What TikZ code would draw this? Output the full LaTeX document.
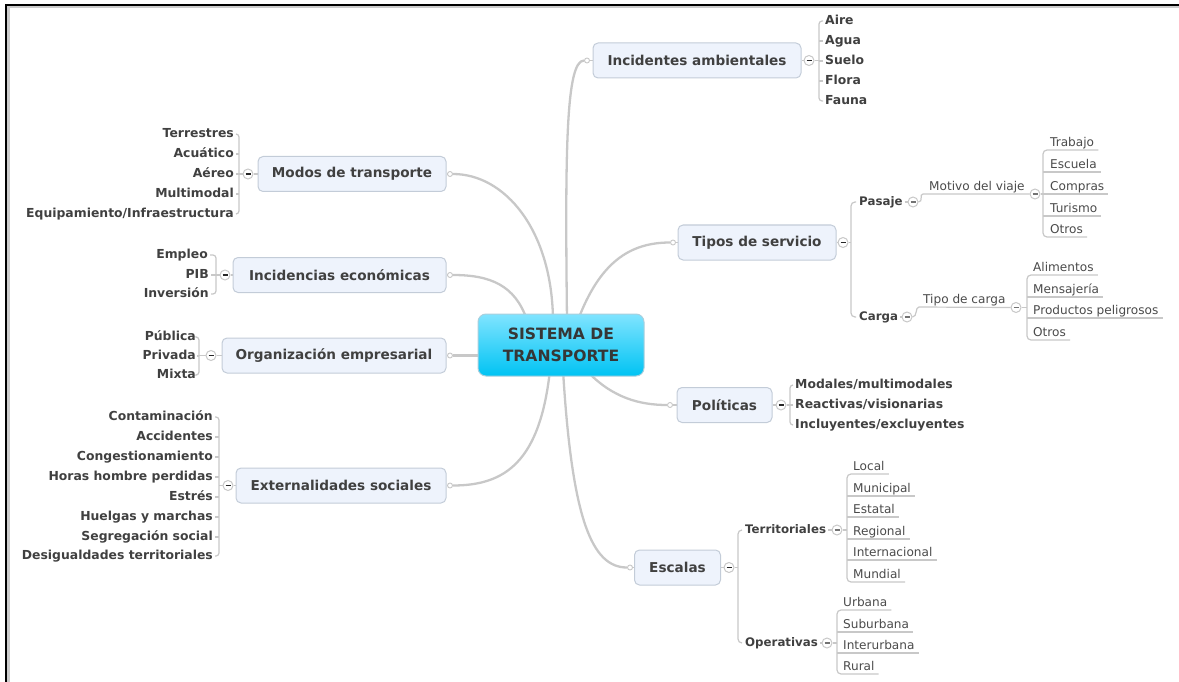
\documentclass[tikz,border=0pt]{standalone}
\usepackage{fontspec}
\setmainfont{DejaVu Sans}
\usetikzlibrary{calc,backgrounds}
\definecolor{txt}{HTML}{404040}
\definecolor{ltxt}{HTML}{4A4A4A}
\definecolor{conn}{HTML}{C8C8C8}
\definecolor{boxfill}{HTML}{EEF3FC}
\definecolor{boxdraw}{HTML}{C3CCD8}
\definecolor{cyantop}{HTML}{80E4FF}
\definecolor{cyanbot}{HTML}{00C3F3}
\definecolor{cdraw}{HTML}{A9CFDD}
\tikzset{
 topic/.style={draw=boxdraw, fill=boxfill, rounded corners=5pt, line width=1pt, minimum height=35pt, font=\fontsize{13.6}{15}\selectfont\bfseries, text=txt, inner sep=0pt},
 bleaf/.style={font=\fontsize{12.4}{13}\selectfont\bfseries, text=txt, inner sep=0pt, text height=9pt, text depth=2.5pt},
 sleaf/.style={bleaf, font=\fontsize{11.8}{13}\selectfont\bfseries},
 uleaf/.style={font=\fontsize{12.1}{13}\selectfont, text=ltxt, inner xsep=0pt, inner ysep=1pt, text height=8.5pt, text depth=2.5pt, anchor=south west},
 mainconn/.style={draw=conn, line width=2.3pt},
 br/.style={draw=conn, line width=1.2pt},
 minusbase/.style={circle, draw=conn, fill=white, line width=1pt, minimum size=10pt, inner sep=0pt},
 minus/.style={minusbase, path picture={\draw[line width=1.4pt, black!85] ([xshift=-2.5pt]path picture bounding box.center) -- ([xshift=2.5pt]path picture bounding box.center);}},
 minusl/.style={minusbase, path picture={\draw[line width=1.1pt, black!55] ([xshift=-2.5pt]path picture bounding box.center) -- ([xshift=2.5pt]path picture bounding box.center);}},
 dot/.style={circle, draw=conn, fill=white, line width=0.9pt, minimum size=5pt, inner sep=0pt},
}
\begin{document}
\begin{tikzpicture}[x=1pt,y=-1pt]
\useasboundingbox (0,0) rectangle (1179,682);
% frame
\draw[line width=3pt, black!20] (8,682) -- (8,7) -- (1179,7);
\draw[line width=2.4pt, black] (6,682) -- (6,5) -- (1179,5);

% center
\node[rounded corners=8pt, draw=cdraw, line width=1pt, top color=cyantop, bottom color=cyanbot, minimum width=166pt, minimum height=62pt, align=center, font=\fontsize{15.6}{22}\selectfont\bfseries, text=txt!85!black, inner sep=0pt] (cn) at (561,345) {SISTEMA DE\\TRANSPORTE};

% topics
\node[topic, minimum width=208pt] (ia) at (697,60.5) {Incidentes ambientales};
\node[topic, minimum width=188pt] (md) at (352,174) {Modos de transporte};
\node[topic, minimum width=213pt] (ie) at (339.5,275) {Incidencias económicas};
\node[topic, minimum width=224pt] (oe) at (334,355.5) {Organización empresarial};
\node[topic, minimum width=210pt] (es) at (341,485.5) {Externalidades sociales};
\node[topic, minimum width=158pt] (ts) at (757,242.5) {Tipos de servicio};
\node[topic, minimum width=95pt] (po) at (724.5,405) {Políticas};
\node[topic, minimum width=86pt] (ec) at (677.5,567.5) {Escalas};

% dots
\node[dot] (iad) at (587,60.5) {};
\node[dot] (mdd) at (450,174) {};
\node[dot] (ied) at (450,275) {};
\node[dot] (oed) at (450,355.5) {};
\node[dot] (esd) at (450,485.5) {};
\node[dot] (tsd) at (673,242.5) {};
\node[dot] (pod) at (670,405) {};
\node[dot] (ecd) at (630,567.5) {};

% minus circles
\node[minus] (iam) at (809,60.5) {};
\node[minus] (mdm) at (248,174) {};
\node[minus] (iem) at (225,275) {};
\node[minus] (oem) at (211,355.5) {};
\node[minus] (esm) at (228,485.5) {};
\node[minus] (tsm) at (843,242.5) {};
\node[minus] (pom) at (781,405) {};
\node[minus] (ecm) at (729,567.5) {};

% bracket coordinates
\coordinate (bxIA) at (819,60.5);
\coordinate (bxMD) at (239,174);
\coordinate (bxIE) at (216,275);
\coordinate (bxOE) at (199,355.5);
\coordinate (bxES) at (219,485.5);
\coordinate (bxTS) at (851,242.5);
\coordinate (bxPO) at (790,405);
\coordinate (bxEC) at (738,567.5);

% Incidentes ambientales leaves
\node[bleaf, anchor=west] (aire) at (825,21) {Aire};
\node[bleaf, anchor=west] (agua) at (825,41) {Agua};
\node[bleaf, anchor=west] (suelo) at (825,61) {Suelo};
\node[bleaf, anchor=west] (flora) at (825,81) {Flora};
\node[bleaf, anchor=west] (fauna) at (825,101) {Fauna};

% Modos leaves
\node[bleaf, anchor=east] (terr) at (234,134) {Terrestres};
\node[bleaf, anchor=east] (acua) at (234,154) {Acuático};
\node[bleaf, anchor=east] (aereo) at (234,174) {Aéreo};
\node[bleaf, anchor=east] (multi) at (234,194) {Multimodal};
\node[bleaf, anchor=east] (equip) at (234,214) {Equipamiento/Infraestructura};

% Incidencias leaves
\node[bleaf, anchor=east] (empleo) at (208,255) {Empleo};
\node[bleaf, anchor=east] (pib) at (209,275) {PIB};
\node[bleaf, anchor=east] (inver) at (209,294) {Inversión};

% Organizacion leaves
\node[bleaf, anchor=east] (publ) at (196,337) {Pública};
\node[bleaf, anchor=east] (priv) at (196,356) {Privada};
\node[bleaf, anchor=east] (mixta) at (196,375) {Mixta};

% Externalidades leaves
\node[bleaf, anchor=east] (cont) at (213,417) {Contaminación};
\node[bleaf, anchor=east] (acci) at (213,437) {Accidentes};
\node[bleaf, anchor=east] (cong) at (213,457) {Congestionamiento};
\node[bleaf, anchor=east] (horas) at (213,477) {Horas hombre perdidas};
\node[bleaf, anchor=east] (estres) at (213,497) {Estrés};
\node[bleaf, anchor=east] (huel) at (213,517) {Huelgas y marchas};
\node[bleaf, anchor=east] (segr) at (213,537) {Segregación social};
\node[bleaf, anchor=east] (desi) at (213,556) {Desigualdades territoriales};

% Politicas leaves
\node[bleaf, anchor=west] (moda) at (795,385) {Modales/multimodales};
\node[bleaf, anchor=west] (reac) at (795,405) {Reactivas/visionarias};
\node[bleaf, anchor=west] (incl) at (795,425) {Incluyentes/excluyentes};

% Tipos de servicio
\node[sleaf, anchor=west] (pasaje) at (859,202) {Pasaje};
\node[sleaf, anchor=west] (carga) at (859,317) {Carga};
\node[minusl] (pam) at (913,202) {};
\node[minusl] (cam) at (907,317) {};
\node[uleaf] (motivo) at (929,194) {Motivo del viaje};
\node[minusl] (mom) at (1035,194) {};
\coordinate (bxMO) at (1043,194);
\node[uleaf] (trab) at (1050,150) {Trabajo};
\node[uleaf] (escu) at (1050,172) {Escuela};
\node[uleaf] (comp) at (1050,194) {Compras};
\node[uleaf] (turi) at (1050,216) {Turismo};
\node[uleaf] (otrosA) at (1050,237) {Otros};
\node[uleaf] (tcarga) at (923,307) {Tipo de carga};
\node[minusl] (tcm) at (1016,307.5) {};
\coordinate (bxTC) at (1027,307.5);
\node[uleaf] (alim) at (1033,275) {Alimentos};
\node[uleaf] (mens) at (1033,297) {Mensajería};
\node[uleaf] (prod) at (1033,318) {Productos peligrosos};
\node[uleaf] (otrosB) at (1033,340) {Otros};

% Escalas
\node[sleaf, anchor=west] (terri) at (745,530) {Territoriales};
\node[sleaf, anchor=west] (opera) at (745,643) {Operativas};
\node[minusl] (trm) at (837,530) {};
\node[minusl] (opm) at (827,643) {};
\coordinate (bxTR) at (847,530);
\coordinate (bxOP) at (837,643);
\node[uleaf] (local) at (853,474) {Local};
\node[uleaf] (muni) at (853,496) {Municipal};
\node[uleaf] (esta) at (853,517) {Estatal};
\node[uleaf] (regi) at (853,539) {Regional};
\node[uleaf] (inte) at (853,560) {Internacional};
\node[uleaf] (mund) at (853,582) {Mundial};
\node[uleaf] (urba) at (843,610) {Urbana};
\node[uleaf] (subu) at (843,632) {Suburbana};
\node[uleaf] (inur) at (843,653) {Interurbana};
\node[uleaf] (rura) at (843,674) {Rural};

\begin{scope}[on background layer]
% main curves
\coordinate (c1) at (567,320);
\coordinate (c2) at (578,320);
\coordinate (c3) at (586,370);
\coordinate (c4) at (563,370);
\coordinate (c5) at (550,370);
\coordinate (c6) at (484,355.5);
\coordinate (c7) at (527,320);
\coordinate (c8) at (553,320);
\draw[mainconn] (c1) .. controls (565,150) and (566,60.5) .. (iad.west);
\draw[mainconn] (c2) .. controls (600,262) and (630,242.5) .. (tsd.west);
\draw[mainconn] (c3) .. controls (612,398) and (640,405) .. (pod.west);
\draw[mainconn] (c4) .. controls (572,520) and (592,567.5) .. (ecd.west);
\draw[mainconn] (c5) .. controls (540,462) and (505,485.5) .. (esd.east);
\draw[mainconn] (c6) -- (oed.east);
\draw[mainconn] (c7) .. controls (515,285) and (490,275) .. (ied.east);
\draw[mainconn] (c8) .. controls (552,230) and (505,174) .. (mdd.east);
% dots to boxes
\draw[br] (iad) -- (ia.west);
\draw[br] (mdd) -- (md.east);
\draw[br] (ied) -- (ie.east);
\draw[br] (oed) -- (oe.east);
\draw[br] (esd) -- (es.east);
\draw[br] (tsd) -- (ts.west);
\draw[br] (pod) -- (po.west);
\draw[br] (ecd) -- (ec.west);
% boxes to minus
\draw[br] (ia.east) -- (iam.west);
\draw[br] (md.west) -- (mdm.east);
\draw[br] (ie.west) -- (iem.east);
\draw[br] (oe.west) -- (oem.east);
\draw[br] (es.west) -- (esm.east);
\draw[br] (ts.east) -- (tsm.west);
\draw[br] (po.east) -- (pom.west);
\draw[br] (ec.east) -- (ecm.west);
% Incidentes ambientales bracket
\draw[br] (iam.east) -- (bxIA);
\draw[br, rounded corners=3pt] ([xshift=-2pt]aire.west) -| (bxIA) |- ([xshift=-2pt]fauna.west);
\foreach \n in {agua,suelo,flora} \draw[br] ([xshift=-2pt]\n.west) -- (\n.west -| bxIA);
% Modos bracket
\draw[br] (mdm.west) -- (bxMD);
\draw[br, rounded corners=3pt] ([xshift=2pt]terr.east) -| (bxMD) |- ([xshift=2pt]equip.east);
\foreach \n in {acua,aereo,multi} \draw[br] ([xshift=2pt]\n.east) -- (\n.east -| bxMD);
% Incidencias bracket
\draw[br] (iem.west) -- (bxIE);
\draw[br, rounded corners=3pt] ([xshift=2pt]empleo.east) -| (bxIE) |- ([xshift=2pt]inver.east);
\draw[br] ([xshift=2pt]pib.east) -- (pib.east -| bxIE);
% Organizacion bracket
\draw[br] (oem.west) -- (bxOE);
\draw[br, rounded corners=3pt] ([xshift=1pt]publ.east) -| (bxOE) |- ([xshift=1pt]mixta.east);
\draw[br] ([xshift=1pt]priv.east) -- (priv.east -| bxOE);
% Externalidades bracket
\draw[br] (esm.west) -- (bxES);
\draw[br, rounded corners=3pt] ([xshift=2pt]cont.east) -| (bxES) |- ([xshift=2pt]desi.east);
\foreach \n in {acci,cong,horas,estres,huel,segr} \draw[br] ([xshift=2pt]\n.east) -- (\n.east -| bxES);
% Politicas bracket
\draw[br] (pom.east) -- (bxPO);
\draw[br, rounded corners=3pt] ([xshift=-2pt]moda.west) -| (bxPO) |- ([xshift=-2pt]incl.west);
\draw[br] ([xshift=-2pt]reac.west) -- (reac.west -| bxPO);
% Tipos de servicio bracket
\draw[br] (tsm.east) -- (bxTS);
\draw[br, rounded corners=4pt] ([xshift=-3pt]pasaje.west) -| (bxTS) |- ([xshift=-3pt]carga.west);
\draw[br] ([xshift=2pt]pasaje.east) -- (pam.west);
\draw[br] ([xshift=2pt]carga.east) -- (cam.west);
\draw[br] (pam.east) .. controls +(5,0) and +(-4,0) .. ([xshift=-6pt]motivo.south west) -- (mom.west);
\draw[br] (cam.east) .. controls +(5,0) and +(-4,0) .. ([xshift=-4pt]tcarga.south west) -- (tcm.west);
\draw[br] (mom.east) -- (bxMO);
\draw[br, rounded corners=4pt] ([xshift=4pt]trab.south east) -| (bxMO) |- ([xshift=4pt]otrosA.south east);
\foreach \n in {escu,comp,turi} \draw[br] (bxMO |- \n.south) -- ([xshift=4pt]\n.south east);
\draw[br] (tcm.east) -- (bxTC);
\draw[br, rounded corners=4pt] ([xshift=4pt]alim.south east) -| (bxTC) |- ([xshift=4pt]otrosB.south east);
\foreach \n in {mens,prod} \draw[br] (bxTC |- \n.south) -- ([xshift=4pt]\n.south east);
% Escalas bracket
\draw[br] (ecm.east) -- (bxEC);
\draw[br, rounded corners=4pt] ([xshift=-3pt]terri.west) -| (bxEC) |- ([xshift=-3pt]opera.west);
\draw[br] ([xshift=2pt]terri.east) -- (trm.west);
\draw[br] ([xshift=2pt]opera.east) -- (opm.west);
\draw[br] (trm.east) -- (bxTR);
\draw[br, rounded corners=4pt] ([xshift=4pt]local.south east) -| (bxTR) |- ([xshift=4pt]mund.south east);
\foreach \n in {muni,esta,regi,inte} \draw[br] (bxTR |- \n.south) -- ([xshift=4pt]\n.south east);
\draw[br] (opm.east) -- (bxOP);
\draw[br, rounded corners=4pt] ([xshift=4pt]urba.south east) -| (bxOP) |- ([xshift=4pt]rura.south east);
\foreach \n in {subu,inur} \draw[br] (bxOP |- \n.south) -- ([xshift=4pt]\n.south east);
\end{scope}
\end{tikzpicture}
\end{document}
